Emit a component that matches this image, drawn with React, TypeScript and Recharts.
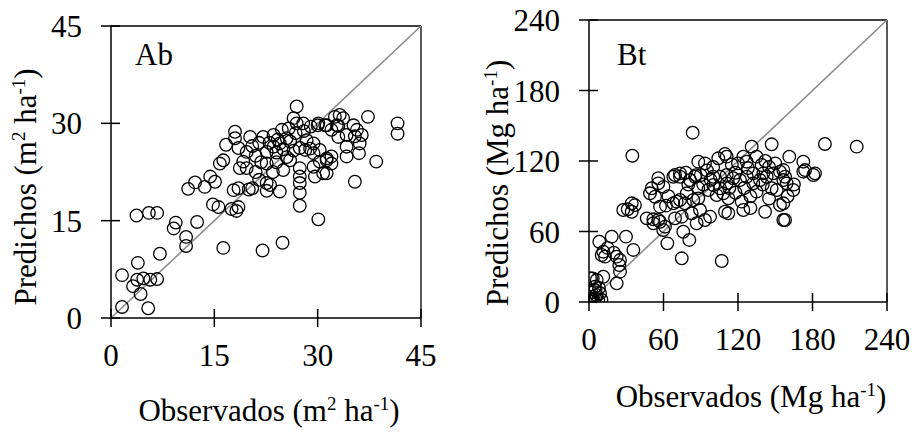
import { ScatterChart, Scatter, XAxis, YAxis, ReferenceLine, Label } from 'recharts'

// Ab: area basal, observados vs predichos (m2 ha-1)
const abPoints: [number, number][] = [
  [1.6, 1.7], [5.4, 1.5], [4.3, 3.7], [3.2, 4.9], [3.8, 5.9], [4.7, 6.1], [5.7, 5.9], [6.7, 6.0], [1.6, 6.6], [3.9, 8.5], [7.1, 9.9],
  [3.7, 15.8], [5.5, 16.2], [6.7, 16.2], [9.4, 14.7], [9.1, 13.8], [10.9, 12.5], [10.9, 11.1], [12.5, 14.8],
  [11.2, 19.9], [12.2, 20.9], [13.6, 20.2], [14.4, 21.8], [15.1, 21.0],
  [14.8, 17.5], [15.6, 17.1], [17.5, 16.8], [18.5, 17.1], [18.2, 16.5], [17.8, 19.7], [18.5, 20.0],
  [16.3, 10.8], [22.0, 10.4], [24.9, 11.6], [30.1, 15.2],
  [27.4, 17.3], [27.4, 19.3], [27.4, 20.8], [24.5, 19.5], [22.6, 20.8], [22.6, 19.6], [23.1, 20.5], [21.5, 21.3],
  [15.8, 23.8], [16.3, 24.3], [16.7, 26.7], [18.0, 28.7], [18.0, 27.7], [18.5, 26.2], [19.7, 25.6], [19.2, 24.1], [19.7, 23.1], [18.7, 23.1],
  [20.2, 27.9], [22.1, 27.9], [23.6, 28.2], [24.8, 29.0], [25.5, 27.7], [26.5, 30.8], [26.95, 32.6], [26.95, 30.0], [27.9, 30.0], [30.1, 30.0], [31.3, 29.7],
  [22.6, 25.6], [23.6, 26.4], [24.5, 26.9], [26.0, 27.2], [27.4, 26.2], [28.4, 27.4], [29.4, 26.9], [30.3, 25.9],
  [22.6, 23.8], [25.0, 22.8], [26.0, 24.3], [27.4, 23.1], [27.4, 21.8], [29.4, 23.3], [30.3, 24.1], [31.3, 24.6], [29.6, 21.8], [31.3, 22.3],
  [41.6, 30.0], [41.6, 28.4], [37.3, 31.0], [38.5, 24.1], [35.2, 29.7], [35.7, 29.0], [33.2, 31.3], [33.7, 30.8], [32.5, 31.0], [32.8, 29.7],
  [33.0, 27.9], [34.2, 28.2], [35.4, 28.0], [36.4, 28.2], [34.2, 26.4], [36.1, 26.9], [34.2, 24.9], [36.0, 25.4], [32.0, 24.9], [35.4, 21.0],
  [30.0, 29.7], [31.1, 29.7], [32.0, 29.0], [33.0, 29.6], [28.9, 26.1], [28.2, 25.9], [29.4, 25.4], [31.3, 24.3], [32.0, 23.8], [30.8, 22.3],
  [20.5, 26.5], [21.0, 25.0], [21.5, 27.0], [23.0, 27.0], [24.0, 25.5], [25.0, 26.0], [25.5, 24.8], [26.5, 25.8], [24.0, 24.0], [23.5, 22.5],
  [21.0, 22.5], [20.5, 20.0], [20.0, 19.8], [21.8, 24.0], [26.8, 28.5], [28.0, 28.8], [29.0, 29.5], [25.8, 29.2], [24.2, 27.5],
]

// Bt: biomasa total, observados vs predichos (Mg ha-1)
const btPoints: [number, number][] = [
  [0.5, 0.5], [2, 2], [3, 4.5], [4, 1], [5, 3], [6, 6], [7.5, 1.7], [8.9, 7.4], [4.8, 13], [2, 8], [1, 3], [10, 2], [3, 20], [6.2, 18.7], [11.5, 21.5], [0.8, 20.2], [5, 10], [8, 12],
  [22.3, 15.9], [25, 25.8], [24.4, 31.5], [25, 35.7], [22.3, 38.6], [12.9, 38.6], [10.2, 40], [11.5, 42.8], [8.3, 51.3], [18.3, 55.6], [29.8, 55.6], [35.7, 44.3], [15, 46], [20, 42],
  [31.2, 78.9], [37, 82.5], [34.4, 76.8], [27.6, 78.3], [34.4, 84], [34.9, 124.5],
  [46.5, 71.2], [51.8, 70.4], [57.2, 68.3], [61.2, 64.1], [59.8, 61.3], [55.8, 69.8], [51.8, 67], [57.2, 81.1], [63.1, 49.9], [74.7, 37.2], [80.8, 52.8], [106.9, 34.9], [75.9, 59.8],
  [49.1, 92.5], [53.2, 89.6], [50.5, 96.8], [55.8, 101], [55.8, 105.3], [69.3, 108.1], [73.3, 109.5], [67.9, 106.6], [73.3, 106.6], [70.6, 85.4], [67.9, 84], [73.3, 86.8], [78.7, 92.5], [77.3, 84],
  [69.3, 71.2], [74.7, 72.6], [82.7, 75.5], [86.7, 67], [89.4, 78.3], [93.4, 69.8], [97.5, 72.6], [84, 86.8], [88, 88.2], [81.3, 103.8], [85.4, 106.6],
  [96.1, 95.3], [100.1, 99.6], [105.5, 96.8], [110.9, 101], [116.2, 105.3], [121.6, 103.8], [102.8, 91], [108.2, 92.5], [112.2, 88.2], [109.5, 76.8], [112.2, 75.5],
  [123, 85.4], [124.3, 78.3], [135, 93.9], [141.8, 76.8], [147.1, 96.8], [151.2, 95.3], [156.5, 103.8], [164.5, 95.3], [153.8, 82.5], [156.5, 69.8],
  [143.1, 106.6], [148.4, 109.5], [153.8, 110.9], [157.9, 106.6], [180.7, 108.1], [172.6, 110.9], [132.3, 101], [137.7, 103.8], [127, 106.6], [132.3, 109.5], [140.4, 109.5],
  [105.5, 106.6], [110.9, 108.1], [100.1, 106.6],
  [83.5, 144.1], [190, 134.5], [147.1, 134.2], [131, 132.2], [161.3, 123.7], [172.6, 119.4], [174, 112.3], [182, 109.5], [109.5, 126], [110.9, 123.7], [104.1, 122.3],
  [88, 119.4], [93.4, 118], [124.3, 123.7], [127, 119.4], [135, 123.7], [139, 116.6],
  [215.6, 132.2], [156.5, 112.3], [159.2, 101], [156.5, 84], [157.9, 69.8],
  [95, 112], [100, 115], [115, 117], [118, 110], [120, 118], [128, 114], [142, 120], [145, 115], [150, 118], [98, 104], [92, 100], [88, 97], [86, 108],
  [80, 100], [78, 110], [90, 108], [113, 97], [125, 97], [130, 90], [118, 93], [140, 100], [160, 90], [165, 100], [145, 88], [130, 80], [60, 98], [64, 90], [62, 82],
]

const abTicks = [0, 15, 30, 45]
const btTicks = [0, 60, 120, 180, 240]

const FONT = 'Liberation Serif, Times New Roman, serif'
const FS = 31

const toRows = (pts: [number, number][]) => pts.map(([obs, pred]) => ({ obs, pred }))

function XTick({ x, y, payload }: any) {
  return (
    <g>
      <line x1={x} x2={x} y1={y - 9} y2={y + 9} stroke="#000" strokeWidth={1.5} />
      <text x={x} y={y + 48} textAnchor="middle" fontFamily={FONT} fontSize={FS} fill="#000">
        {payload.value}
      </text>
    </g>
  )
}

function YTick({ x, y, payload }: any) {
  return (
    <g>
      <line x1={x - 10} x2={x + 9} y1={y} y2={y} stroke="#000" strokeWidth={1.5} />
      <text x={x - 29} y={y + 11} textAnchor="end" fontFamily={FONT} fontSize={FS} fill="#000">
        {payload.value}
      </text>
    </g>
  )
}

const circle = (p: any) => (
  <circle cx={p.cx} cy={p.cy} r={6.3} fill="none" stroke="#000" strokeWidth={1.3} />
)

// unit text with superscripts, e.g. (m² ha⁻¹)
function unitSpans(unit: string, sup: string | null) {
  const s = { fontSize: 19 }
  return [
    <tspan key="a">{`(${unit}`}</tspan>,
    sup ? <tspan key="b" dy={-11} style={s}>{sup}</tspan> : null,
    <tspan key="c" dy={sup ? 11 : 0}> ha</tspan>,
    <tspan key="d" dy={-11} style={s}>-1</tspan>,
    <tspan key="e" dy={11}>)</tspan>,
  ]
}

function Panel({ points, ticks, max, tag, unit, sup, left, width, margin, yAxisW, xLab, yLab }: any) {
  const data = toRows(points)
  return (
    <div style={{ position: 'absolute', left, top: 0 }}>
      <ScatterChart width={width} height={444} margin={margin}>
        <XAxis
          type="number" dataKey="obs" domain={[0, max]} ticks={ticks} interval={0}
          allowDataOverflow tickSize={0} tickMargin={0} tickLine={false}
          axisLine={{ stroke: '#000', strokeWidth: 1.5 }} tick={<XTick />} height={110}
        >
          <Label
            content={({ viewBox }: any) => (
              <text
                x={viewBox.x + viewBox.width / 2 + xLab.dx} y={viewBox.y + xLab.dy}
                textAnchor="middle" fontFamily={FONT} fontSize={FS} fill="#000"
              >
                <tspan>Observados </tspan>
                {unitSpans(unit, sup)}
              </text>
            )}
          />
        </XAxis>
        <YAxis
          type="number" dataKey="pred" domain={[0, max]} ticks={ticks} interval={0}
          allowDataOverflow tickSize={0} tickMargin={0} tickLine={false}
          axisLine={{ stroke: '#000', strokeWidth: 1.5 }} tick={<YTick />} width={yAxisW}
        >
          <Label
            content={({ viewBox }: any) => {
              const cx = viewBox.x + viewBox.width - yLab.dx
              const cy = viewBox.y + viewBox.height / 2 + yLab.dy
              return (
                <g>
                  <text
                    x={cx} y={cy} transform={`rotate(-90 ${cx} ${cy})`}
                    textAnchor="middle" fontFamily={FONT} fontSize={FS} fill="#000"
                  >
                    <tspan>Predichos </tspan>
                    {unitSpans(unit, sup)}
                  </text>
                  <text
                    x={viewBox.x + viewBox.width + tag.dx} y={viewBox.y + tag.dy}
                    fontFamily={FONT} fontSize={FS} fill="#000"
                  >
                    {tag.text}
                  </text>
                </g>
              )
            }}
          />
        </YAxis>
        <ReferenceLine y={max} stroke="#000" strokeWidth={1.3} />
        <ReferenceLine x={max} stroke="#000" strokeWidth={1.3} />
        <ReferenceLine segment={[{ x: 0, y: 0 }, { x: max, y: max }]} stroke="#8c8c8c" strokeWidth={1.6} />
        <Scatter data={data} shape={circle} isAnimationActive={false} />
      </ScatterChart>
    </div>
  )
}

export default function App() {
  return (
    <div style={{ position: 'absolute', left: 0, top: 0, width: 912, height: 444, background: '#fff' }}>
      <Panel
        points={abPoints} ticks={abTicks} max={45} unit="m" sup="2"
        tag={{ text: 'Ab', dx: 24, dy: 39 }}
        left={0} width={440} margin={{ top: 26, right: 19, left: 0, bottom: 16 }} yAxisW={111}
        xLab={{ dx: 3, dy: 103 }} yLab={{ dx: 75, dy: 15 }}
      />
      <Panel
        points={btPoints} ticks={btTicks} max={240} unit="Mg" sup={null}
        tag={{ text: 'Bt', dx: 28, dy: 45 }}
        left={460} width={452} margin={{ top: 20, right: 25, left: 0, bottom: 32 }} yAxisW={129}
        xLab={{ dx: 13, dy: 105 }} yLab={{ dx: 81, dy: 22 }}
      />
    </div>
  )
}
